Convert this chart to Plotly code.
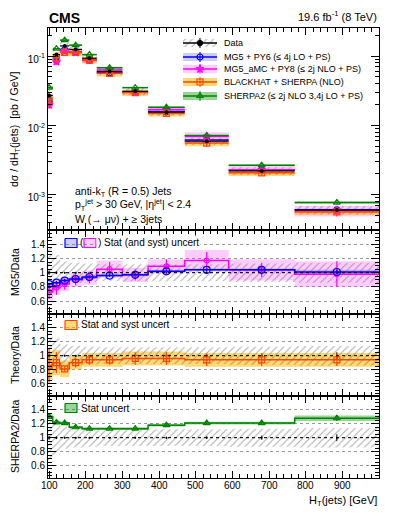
import plotly.graph_objects as go
from plotly.subplots import make_subplots

# HT bins and values
ht_edges = [90, 110, 130, 155, 190, 230, 300, 370, 470, 590, 770, 1000]
data_xs = [0.027, 0.105, 0.14, 0.125, 0.093, 0.060, 0.031, 0.0155, 0.0059, 0.0022, 0.0006]
data_unc = [0.35, 0.25, 0.16, 0.14, 0.13, 0.12, 0.12, 0.12, 0.12, 0.13, 0.14]
data_stat = [0.03, 0.02, 0.01, 0.01, 0.01, 0.01, 0.01, 0.015, 0.02, 0.03, 0.05]

mg5_ratio = [0.84, 0.86, 0.89, 0.91, 0.94, 0.96, 0.97, 1.02, 1.04, 1.04, 1.01]
mg5_err = [0.02, 0.02, 0.02, 0.02, 0.02, 0.02, 0.02, 0.02, 0.02, 0.02, 0.03]

amc_ratio = [0.73, 0.79, 0.84, 0.90, 0.93, 1.05, 0.97, 1.09, 1.17, 1.04, 0.98]
amc_err = [0.10, 0.10, 0.08, 0.08, 0.08, 0.10, 0.08, 0.10, 0.12, 0.10, 0.18]
amc_band = [0.12, 0.10, 0.10, 0.10, 0.10, 0.12, 0.10, 0.10, 0.15, 0.15, 0.18]

bh_ratio = [0.86, 0.90, 0.81, 0.90, 0.94, 0.94, 0.96, 0.96, 0.94, 0.94, 0.94]
bh_err = [0.25, 0.15, 0.04, 0.07, 0.07, 0.07, 0.09, 0.09, 0.09, 0.09, 0.09]
bh_band = [0.20, 0.18, 0.12, 0.10, 0.10, 0.10, 0.10, 0.10, 0.10, 0.10, 0.10]

sh_ratio = [1.30, 1.22, 1.21, 1.15, 1.13, 1.13, 1.13, 1.18, 1.21, 1.21, 1.28]
sh_err = [0.03, 0.02, 0.02, 0.02, 0.02, 0.02, 0.02, 0.02, 0.02, 0.02, 0.04]

x_ticks = [100, 200, 300, 400, 500, 600, 700, 800, 900]

centers = [(a + b) / 2 for a, b in zip(ht_edges[:-1], ht_edges[1:])]
lo_e, hi_e = ht_edges[:-1], ht_edges[1:]

BLUE, MAG, ORA, GRN = 'rgb(0,0,255)', 'rgb(255,0,255)', 'rgb(255,70,0)', 'rgb(0,130,0)'
BLUE_B, MAG_B, ORA_B, GRN_B = ('rgba(90,90,255,0.3)', 'rgba(255,0,255,0.2)',
                               'rgba(255,185,0,0.55)', 'rgba(0,150,0,0.4)')
HATCH = dict(shape='/', fgcolor='#555', bgcolor='rgba(0,0,0,0)', size=5, solidity=0.2)
FONT = 'Liberation Sans, Arial, sans-serif'


def boxes(lo, hi):
    xs, ys = [], []
    for x0, x1, a, b in zip(lo_e, hi_e, lo, hi):
        xs += [x0, x1, x1, x0, x0, None]
        ys += [a, a, b, b, a, None]
    return xs, ys


def segs(vals):
    xs, ys = [], []
    for x0, x1, v in zip(lo_e, hi_e, vals):
        xs += [x0, x1, None]
        ys += [v, v, None]
    return xs, ys


fig = make_subplots(rows=4, cols=1, shared_xaxes=True, vertical_spacing=0,
                    row_heights=[202, 84, 82, 82])

# ---- top panel: cross sections
models = [
    (mg5_ratio, mg5_err, mg5_err, BLUE, BLUE_B, 'circle-open'),
    (amc_ratio, amc_err, amc_band, MAG, MAG_B, 'star-open'),
    (bh_ratio, bh_err, bh_band, ORA, ORA_B, 'square-open'),
    (sh_ratio, sh_err, sh_err, GRN, GRN_B, 'triangle-up-open'),
]
for ratio, err, band, col, bcol, sym in models:
    vals = [d * r for d, r in zip(data_xs, ratio)]
    bx, by = boxes([v * (1 - b) for v, b in zip(vals, band)], [v * (1 + b) for v, b in zip(vals, band)])
    fig.add_trace(go.Scatter(x=bx, y=by, fill='toself', fillcolor=bcol, line=dict(width=0),
                             mode='lines', hoverinfo='skip'), row=1, col=1)
bx, by = boxes([d * (1 - u) for d, u in zip(data_xs, data_unc)], [d * (1 + u) for d, u in zip(data_xs, data_unc)])
fig.add_trace(go.Scatter(x=bx, y=by, fill='toself', fillcolor='rgba(0,0,0,0)', fillpattern=HATCH,
                         line=dict(width=0), mode='lines', hoverinfo='skip'), row=1, col=1)
for ratio, err, band, col, bcol, sym in models:
    vals = [d * r for d, r in zip(data_xs, ratio)]
    sx, sy = segs(vals)
    fig.add_trace(go.Scatter(x=sx, y=sy, mode='lines', line=dict(color=col, width=1.5)), row=1, col=1)
    fig.add_trace(go.Scatter(x=centers, y=vals, mode='markers',
                             marker=dict(symbol=sym, color=col, size=6, line=dict(width=1.2, color=col)),
                             error_y=dict(type='data', array=[v * e for v, e in zip(vals, err)],
                                          color=col, thickness=1.2, width=0)), row=1, col=1)
sx, sy = segs(data_xs)
fig.add_trace(go.Scatter(x=sx, y=sy, mode='lines', line=dict(color='black', width=1.2)), row=1, col=1)
fig.add_trace(go.Scatter(x=centers, y=data_xs, mode='markers', marker=dict(color='black', size=4),
                         error_y=dict(type='data', array=[d * s for d, s in zip(data_xs, data_stat)],
                                      color='black', thickness=1, width=0)), row=1, col=1)


# ---- ratio panels
def data_band(row):
    bx, by = boxes([1 - u for u in data_unc], [1 + u for u in data_unc])
    fig.add_trace(go.Scatter(x=bx, y=by, fill='toself', fillcolor='rgba(0,0,0,0)', fillpattern=HATCH,
                             line=dict(width=0), mode='lines', hoverinfo='skip'), row=row, col=1)
    fig.add_trace(go.Scatter(x=centers, y=[1] * len(centers), mode='markers',
                             marker=dict(color='black', size=2),
                             error_y=dict(type='data', array=data_stat, color='black', thickness=1, width=0)),
                  row=row, col=1)


def ratio_band(row, ratio, band, bcol):
    bx, by = boxes([r - b for r, b in zip(ratio, band)], [r + b for r, b in zip(ratio, band)])
    fig.add_trace(go.Scatter(x=bx, y=by, fill='toself', fillcolor=bcol, line=dict(width=0),
                             mode='lines', hoverinfo='skip'), row=row, col=1)


def ratio_line(row, ratio, err, col, sym, msize=6):
    fig.add_trace(go.Scatter(x=ht_edges, y=ratio + [ratio[-1]], mode='lines', line_shape='hv',
                             line=dict(color=col, width=1.5)), row=row, col=1)
    fig.add_trace(go.Scatter(x=centers, y=ratio, mode='markers',
                             marker=dict(symbol=sym, color=col, size=msize, line=dict(width=1.2, color=col)),
                             error_y=dict(type='data', array=err, color=col, thickness=1.2, width=0)),
                  row=row, col=1)


ratio_band(2, amc_ratio, amc_band, MAG_B)
ratio_band(2, mg5_ratio, mg5_err, BLUE_B)
data_band(2)
ratio_line(2, amc_ratio, amc_err, MAG, 'circle-open', 5)
ratio_line(2, mg5_ratio, mg5_err, BLUE, 'circle-open', 7)
ratio_band(3, bh_ratio, bh_band, ORA_B)
data_band(3)
ratio_line(3, bh_ratio, bh_err, ORA, 'square-open', 6)
ratio_band(4, sh_ratio, sh_err, GRN_B)
data_band(4)
ratio_line(4, sh_ratio, sh_err, GRN, 'triangle-up-open', 6)

# ---- axes
ax_common = dict(showline=True, linecolor='black', linewidth=1, mirror='ticks', ticks='inside',
                 tickcolor='black', automargin=False, tickfont=dict(family=FONT, size=10, color='black'))
fig.update_xaxes(range=[97, 1000], tickvals=x_ticks, ticklen=7, showticklabels=False,
                 showgrid=False, zeroline=False,
                 minor=dict(ticks='inside', ticklen=4, dtick=20, tickcolor='black'), **ax_common)
minor_log = [m * 10 ** e for e in (-4, -3, -2, -1) for m in (2, 3, 4, 5, 6, 7, 8, 9)]
fig.update_yaxes(type='log', range=[-3.51, -0.595], tickvals=[1e-3, 1e-2, 1e-1],
                 ticktext=['10<sup>-3</sup>', '10<sup>-2</sup>', '10<sup>-1</sup>'], ticklabelshift=3,
                 ticklen=8, showgrid=False, minor=dict(ticks='inside', ticklen=4, tickvals=minor_log,
                                                       tickcolor='black'), row=1, col=1, **ax_common)
for r in (2, 3, 4):
    fig.update_yaxes(range=[0.42, 1.6], tickvals=[0.6, 0.8, 1, 1.2, 1.4], ticklen=8, zeroline=False,
                     showgrid=True, gridcolor='#999', griddash='dot', gridwidth=1,
                     minor=dict(ticks='inside', ticklen=4, dtick=0.05, tickcolor='black'),
                     row=r, col=1, **ax_common)
    fig.add_hline(y=1, line=dict(color='black', width=1, dash='dot'), row=r, col=1)

# ---- overlay axis for legend glyphs (page-pixel helpers; page has an 8px body margin)
L, R, T, B = 48, 379, 28, 478
px = lambda p: (p - L) / (R - L)
py = lambda p: (B - p) / (B - T)
fig.update_layout(xaxis5=dict(domain=[0, 1], range=[0, 1], visible=False, anchor='y5', fixedrange=True),
                  yaxis5=dict(domain=[0, 1], range=[0, 1], visible=False, anchor='x5', fixedrange=True))

ann = []


def glyph_box(x0, x1, yc, h, fill, line=None, pattern=None):
    fig.add_trace(go.Scatter(x=[px(x0), px(x1), px(x1), px(x0), px(x0)],
                             y=[py(yc - h / 2), py(yc - h / 2), py(yc + h / 2), py(yc + h / 2), py(yc - h / 2)],
                             fill='toself', fillcolor=fill, fillpattern=pattern, mode='lines',
                             line=dict(width=1.2 if line else 0, color=line or 'rgba(0,0,0,0)'),
                             xaxis='x5', yaxis='y5', hoverinfo='skip'))


def label(x, y, text, size=10, **kw):
    d = dict(x=x, y=y, xref='paper', yref='paper', text=text, showarrow=False,
             xanchor='left', yanchor='middle', font=dict(family=FONT, size=size, color='black'))
    d.update(kw)
    ann.append(d)


leg = [('Data', 'black', None, 'circle'),
       ('MG5 + PY6 (≤ 4j LO + PS)', BLUE, BLUE_B, 'circle-open'),
       ('MG5_aMC + PY8 (≤ 2j NLO + PS)', MAG, MAG_B, 'star-open'),
       ('BLACKHAT + SHERPA (NLO)', ORA, ORA_B, 'square-open'),
       ('SHERPA2 (≤ 2j NLO 3,4j LO + PS)', GRN, GRN_B, 'triangle-up-open')]
for (txt, col, bcol, sym), yc in zip(leg, [43, 57, 69, 82, 96]):
    if bcol is None:
        glyph_box(183, 217, yc, 8, 'rgba(0,0,0,0)', pattern=HATCH)
    else:
        glyph_box(183, 217, yc, 8, bcol)
    fig.add_trace(go.Scatter(x=[px(183), px(217)], y=[py(yc), py(yc)], mode='lines',
                             line=dict(color=col, width=1.5), xaxis='x5', yaxis='y5'))
    fig.add_trace(go.Scatter(x=[px(200)], y=[py(yc)], mode='markers',
                             marker=dict(symbol=sym, color=col, size=5 if sym == 'circle' else 6,
                                         line=dict(width=1.2, color=col)),
                             error_y=dict(type='constant', value=5 / 450, color=col, thickness=1, width=0),
                             xaxis='x5', yaxis='y5'))
    label(px(222), py(yc), txt, size=9)

# ratio legends
glyph_box(65, 77, 243, 9, BLUE_B, BLUE)
glyph_box(84, 96, 243, 9, MAG_B, MAG)
label(px(78), py(243), '(')
label(px(96), py(243), ') Stat (and syst) uncert', bgcolor='white')
glyph_box(65, 77, 325, 9, ORA_B, ORA)
label(px(79), py(325), 'Stat and syst uncert', bgcolor='white')
glyph_box(65, 77, 408, 9, GRN_B, GRN)
label(px(79), py(408), 'Stat uncert', bgcolor='white')

# x tick labels drawn close to the axis, ROOT style
for t in x_ticks:
    ann.append(dict(x=t, y=py(486), xref='x4', yref='paper', text=str(t), showarrow=False,
                    xanchor='center', yanchor='middle', font=dict(family=FONT, size=10, color='black')))

# texts
label(px(47), py(18), '<b>CMS</b>', size=14)
label(1, py(16), '19.6 fb<sup>-1</sup> (8 TeV)', size=11, xanchor='right')
label(px(73), py(192), 'anti-k<sub>T</sub> (R = 0.5) Jets', size=10.5)
label(px(73), py(205), 'p<sub>T</sub><sup>jet</sup> > 30 GeV, |η<sup>jet</sup>| < 2.4', size=10.5)
label(px(73), py(219), 'W (→ μν) + ≥ 3jets', size=10.5)
label(1, py(501), 'H<sub>T</sub>(jets) [GeV]', size=11, xanchor='right')
label(px(15), py(129), 'dσ / dH<sub>T</sub>(jets)  [pb / GeV]', size=10.5, textangle=-90, xanchor='center')
label(px(15), py(272), 'MG5/Data', size=10.5, textangle=-90, xanchor='center')
label(px(15), py(355), 'Theory/Data', size=10.5, textangle=-90, xanchor='center')
label(px(15), py(437), 'SHERPA2/Data', size=10.5, textangle=-90, xanchor='center')

# the page body keeps an 8px margin, so the figure is sized to fit inside it
M = 8
fig.update_layout(width=399 - M, height=516 - M,
                  margin=dict(l=L - M, r=399 - R, t=T - M, b=516 - B, autoexpand=False),
                  plot_bgcolor='rgba(0,0,0,0)', paper_bgcolor='white', showlegend=False,
                  annotations=ann, font=dict(family=FONT, color='black'))

fig.write_html("out.html")
